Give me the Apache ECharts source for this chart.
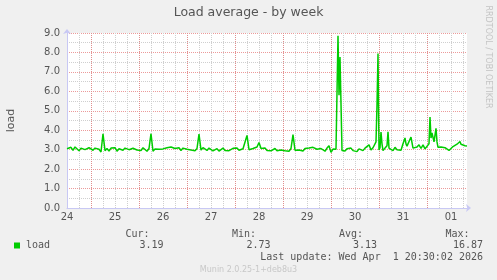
<!DOCTYPE html>
<html>
<head>
<meta charset="utf-8">
<script src="https://cdn.jsdelivr.net/npm/echarts@6/dist/echarts.min.js"></script>
<style>
  html, body { margin: 0; padding: 0; background: #f0f0f0; }
  #chart { width: 497px; height: 280px; }
</style>
</head>
<body>
<div id="chart"></div>
<script>
// Hours counted from Mar 24 00:00
const hours = [
  12,13,14,15,16,17,18,19,20,21,22,23,
  24,25,26,27,28,29,30,31,32,33,34,35,
  36,37,38,39,40,41,42,43,44,45,46,47,
  48,49,50,51,52,53,54,55,56,57,58,59,
  60,61,62,63,64,65,66,67,68,69,70,71,
  72,73,74,75,76,77,78,79,80,81,82,83,
  84,85,86,87,88,89,90,91,92,93,94,95,
  96,97,98,99,100,101,102,103,104,105,106,107,
  108,109,110,111,112,113,114,115,116,117,118,119,
  120,121,122,123,124,125,126,127,128,129,130,131,
  132,133,134,135,136,137,138,139,140,141,142,143,
  144,145,146,146.5,147.5,148,148.5,149.5,150,151,152,153,
  154,155,156,157,158,159,160,161,162,163,164,165,
  166,166.5,167,167.5,168,168.5,169,169.5,170,171,172,172.5,
  173,174,175,176,177,178,179,180,181,181.5,182,183,184,
  185,186,187,188,189,190,191,192,193,193.5,194,194.5,195,195.5,196,196.5,197,197.5,198,
  199,200,201,202,203,204,205,206,207,208,208.5,209,210,211,212
];
const load = [
  3.05,2.98,3.12,2.96,3.14,3.04,2.94,3.08,3.15,3.00,2.96,3.10,
  3.12,2.97,3.08,3.16,3.02,2.88,3.82,2.95,3.06,2.93,3.08,3.00,
  3.10,2.92,3.05,3.12,2.97,3.08,3.14,3.00,2.94,3.07,3.11,2.98,
  3.06,2.96,3.10,3.00,2.92,3.06,3.82,2.92,3.03,3.10,3.02,3.09,
  3.04,2.98,3.10,3.02,3.14,3.22,3.06,3.00,3.10,2.96,3.08,3.12,
  3.02,3.10,2.98,3.07,2.95,3.06,3.80,2.98,3.10,3.02,2.96,3.08,
  3.00,2.94,2.86,3.05,2.93,3.03,3.08,2.96,3.05,2.95,3.03,3.07,
  3.00,3.08,2.97,2.92,3.05,3.10,3.73,3.00,2.95,3.06,2.97,3.14,
  3.37,3.06,2.99,3.08,2.96,3.05,2.94,3.03,3.06,2.95,3.04,2.98,
  3.05,2.94,3.03,2.92,3.06,3.77,2.97,3.05,2.98,3.03,2.93,3.06,
  2.98,3.08,3.00,3.12,3.20,3.02,2.96,3.06,3.00,2.92,3.08,3.20,
  2.86,3.03,2.98,3.02,8.86,5.80,7.77,2.96,3.04,2.93,3.05,2.98,
  3.08,2.95,3.03,2.90,3.04,3.06,2.95,3.08,3.00,3.25,2.98,3.10,
  3.20,3.40,5.30,7.94,2.98,3.10,3.90,3.30,2.95,3.08,3.20,3.92,
  3.08,3.02,2.95,3.12,3.00,3.10,2.97,3.30,3.60,3.30,3.18,3.08,3.65,
  3.08,3.02,3.14,3.25,3.06,3.25,3.04,3.12,3.30,4.68,3.60,3.86,3.82,3.40,3.50,4.10,3.40,3.12,3.08,
  3.14,3.16,3.10,3.03,2.96,3.02,3.16,3.20,3.28,3.36,3.42,3.28,3.35,3.20,3.19
];
const dayLabels = ['24','25','26','27','28','29','30','31','01'];
const statNames = ['Cur:', 'Min:', 'Avg:', 'Max:'];
const statValues = ['3.19', '2.73', '3.13', '16.87'];
const seriesName = 'load';
const titleText = 'Load average - by week';
const lastUpdate = 'Last update: Wed Apr  1 20:30:02 2026';
const sideText = 'RRDTOOL / TOBI OETIKER';
const footerText = 'Munin 2.0.25-1+deb8u3';

const data = hours.map((h, i) => [h, load[i]]);

const axisColor = '#c8c8f4';
const majorGrid = 'rgba(230,120,120,0.75)';
const minorGrid = '#cfcfcf';
const textColor = '#555';
const mono = '"DejaVu Sans Mono", monospace';
const sans = '"DejaVu Sans", sans-serif';

const chart = echarts.init(document.getElementById('chart'), null, { renderer: 'canvas' });

const statLabelRight = [149.5, 256, 363, 469.5];
const statValueRight = [163.5, 270.5, 377, 483];

const graphics = [
  { type: 'text', x: 248.5, y: 13, style: { text: titleText, font: '12.5px ' + sans, fill: textColor, align: 'center', verticalAlign: 'middle' } },
  { type: 'text', x: 488.5, y: 57, rotation: -Math.PI / 2, style: { text: sideText, font: '8px ' + sans, fill: '#c4c4c4', align: 'center', verticalAlign: 'middle' } },
  { type: 'rect', shape: { x: 14, y: 242.5, width: 6, height: 6 }, style: { fill: '#00cc00' } },
  { type: 'text', x: 26, y: 245.5, style: { text: seriesName, font: '10px ' + mono, fill: textColor, align: 'left', verticalAlign: 'middle' } },
  { type: 'text', x: 483, y: 257.5, style: { text: lastUpdate, font: '10px ' + mono, fill: textColor, align: 'right', verticalAlign: 'middle' } },
  { type: 'text', x: 248.5, y: 269.5, style: { text: footerText, font: '8px ' + sans, fill: '#c8c8c8', align: 'center', verticalAlign: 'middle' } }
];
statNames.forEach((n, i) => {
  graphics.push({ type: 'text', x: statLabelRight[i], y: 234, style: { text: n, font: '10px ' + mono, fill: textColor, align: 'right', verticalAlign: 'middle' } });
  graphics.push({ type: 'text', x: statValueRight[i], y: 245.5, style: { text: statValues[i], font: '10px ' + mono, fill: textColor, align: 'right', verticalAlign: 'middle' } });
});

chart.setOption({
  animation: false,
  backgroundColor: '#f0f0f0',
  textStyle: { fontFamily: sans },
  grid: { left: 67, right: 30, top: 33, bottom: 72, show: true, backgroundColor: '#ffffff', borderWidth: 0, containLabel: false, outerBoundsMode: 'none' },
  xAxis: [
    {
      type: 'value', min: 12, max: 212, interval: 6,
      axisLine: { show: true, lineStyle: { color: axisColor, width: 1 }, symbol: ['none', 'arrow'], symbolSize: [6, 5], symbolOffset: [0, 4] },
      axisTick: { show: false },
      axisLabel: {
        color: textColor, fontSize: 10, margin: 4, fontFamily: sans,
        formatter: function (v) { return ((v - 12) % 24 === 0) ? dayLabels[(v - 12) / 24] : ''; }
      },
      splitLine: { show: true, showMaxLine: false, lineStyle: { color: minorGrid, type: 'dotted', width: 1 } }
    },
    {
      type: 'value', min: 12, max: 212, interval: 12, position: 'bottom',
      axisLine: { show: false }, axisTick: { show: false }, axisLabel: { show: false },
      splitLine: { show: true, showMaxLine: false, lineStyle: { color: ['rgba(0,0,0,0)', majorGrid], type: 'dotted', width: 1 } }
    }
  ],
  yAxis: {
    type: 'value', min: 0, max: 9, interval: 1,
    name: 'load', nameLocation: 'middle', nameRotate: 90, nameGap: 50,
    nameTextStyle: { color: textColor, fontSize: 11, fontFamily: sans },
    axisLine: { show: true, lineStyle: { color: axisColor, width: 1 }, symbol: ['none', 'arrow'], symbolSize: [6, 5], symbolOffset: [0, 4] },
    axisTick: { show: false },
    axisLabel: { color: textColor, fontSize: 10, margin: 7, fontFamily: sans, formatter: function (v) { return v.toFixed(1); } },
    splitLine: { show: true, lineStyle: { color: majorGrid, type: 'dotted', width: 1 } },
    minorTick: { show: false, splitNumber: 2 },
    minorSplitLine: { show: true, lineStyle: { color: minorGrid, type: 'dotted', width: 1 } }
  },
  series: [{
    name: seriesName, type: 'line', xAxisIndex: 0, data: data,
    showSymbol: false, symbol: 'none',
    lineStyle: { color: '#00cc00', width: 1.5 },
    itemStyle: { color: '#00cc00' },
    z: 5
  }],
  graphic: graphics
});
</script>
</body>
</html>
